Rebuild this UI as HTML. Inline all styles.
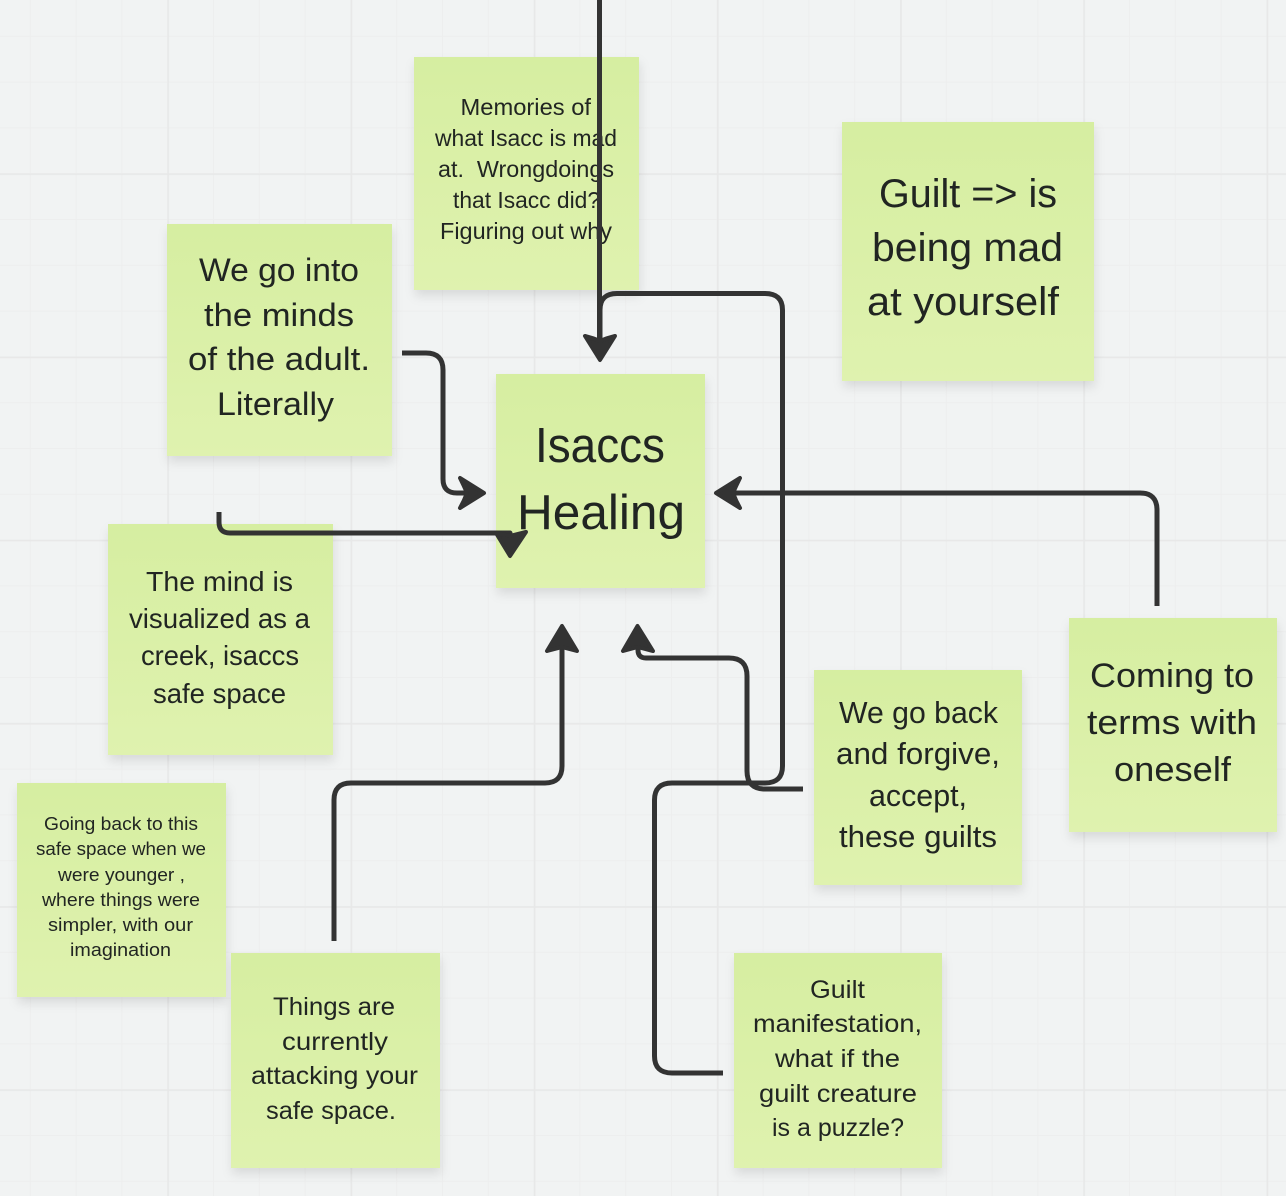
<!DOCTYPE html>
<html><head><meta charset="utf-8"><style>
html,body{margin:0;padding:0;background:#f1f3f3}
svg{display:block}
text{font-family:"Liberation Sans",sans-serif;fill:#212522}
.c{fill:none;stroke:#333;stroke-width:5;stroke-linecap:butt;stroke-linejoin:round}
.h{fill:#333;stroke:#333;stroke-width:4;stroke-linejoin:round}
</style></head><body>
<svg width="1286" height="1196" viewBox="0 0 1286 1196" xmlns="http://www.w3.org/2000/svg">
<defs>
<linearGradient id="g" x1="0" y1="0" x2="0" y2="1"><stop offset="0" stop-color="#d6eea1"/><stop offset="1" stop-color="#dff2af"/></linearGradient>
<filter id="s" x="-10%" y="-10%" width="120%" height="125%"><feDropShadow dx="1" dy="6" stdDeviation="5" flood-color="#000" flood-opacity="0.1"/></filter>
<pattern id="minor" x="-16" y="-10" width="45.8" height="45.8" patternUnits="userSpaceOnUse"><path d="M0.5 0V45.8M0 0.5H45.8" stroke="#edeeee" stroke-width="1" fill="none"/></pattern>
<pattern id="major" x="-16" y="-10" width="183.2" height="183.2" patternUnits="userSpaceOnUse"><path d="M1 0V183.2M0 1H183.2" stroke="#e7e8e8" stroke-width="1.6" fill="none"/></pattern>
</defs>
<rect width="1286" height="1196" fill="#f1f3f3"/>
<rect width="1286" height="1196" fill="url(#minor)"/>
<rect width="1286" height="1196" fill="url(#major)"/>

<g filter="url(#s)" fill="url(#g)">
<rect x="414" y="57" width="225" height="233"/>
<rect x="167" y="224" width="225" height="232"/>
<rect x="496" y="374" width="209" height="214"/>
<rect x="842" y="122" width="252" height="259"/>
<rect x="108" y="524" width="225" height="231"/>
<rect x="17" y="783" width="209" height="214"/>
<rect x="231" y="953" width="209" height="215"/>
<rect x="734" y="953" width="208" height="215"/>
<rect x="814" y="670" width="208" height="215"/>
<rect x="1069" y="618" width="208" height="214"/>
</g>

<g font-size="22.8">
<text x="460.5" y="115" textLength="130.5" lengthAdjust="spacingAndGlyphs">Memories of</text>
<text x="435" y="146" textLength="182" lengthAdjust="spacingAndGlyphs">what Isacc is mad</text>
<text x="438" y="177" textLength="176" lengthAdjust="spacingAndGlyphs" xml:space="preserve">at.  Wrongdoings</text>
<text x="453" y="208" textLength="147" lengthAdjust="spacingAndGlyphs">that Isacc did?</text>
<text x="440" y="239" textLength="172" lengthAdjust="spacingAndGlyphs">Figuring out why</text>
</g>
<g font-size="32.7">
<text x="199" y="281" textLength="160" lengthAdjust="spacingAndGlyphs">We go into</text>
<text x="204" y="326" textLength="150" lengthAdjust="spacingAndGlyphs">the minds</text>
<text x="188" y="370" textLength="182" lengthAdjust="spacingAndGlyphs">of the adult.</text>
<text x="217" y="415" textLength="117" lengthAdjust="spacingAndGlyphs">Literally</text>
</g>
<g font-size="49">
<text x="535" y="462" textLength="130" lengthAdjust="spacingAndGlyphs">Isaccs</text>
<text x="517" y="529" textLength="168" lengthAdjust="spacingAndGlyphs">Healing</text>
</g>
<g font-size="39.7">
<text x="879" y="207" textLength="178" lengthAdjust="spacingAndGlyphs">Guilt =&gt; is</text>
<text x="872" y="261" textLength="191" lengthAdjust="spacingAndGlyphs">being mad</text>
<text x="867" y="315" textLength="192" lengthAdjust="spacingAndGlyphs">at yourself</text>
</g>
<g font-size="27.4">
<text x="146" y="591" textLength="147" lengthAdjust="spacingAndGlyphs">The mind is</text>
<text x="129" y="628" textLength="181" lengthAdjust="spacingAndGlyphs">visualized as a</text>
<text x="141" y="665" textLength="158" lengthAdjust="spacingAndGlyphs">creek, isaccs</text>
<text x="153" y="703" textLength="133" lengthAdjust="spacingAndGlyphs">safe space</text>
</g>
<g font-size="18.5">
<text x="44" y="830" textLength="154" lengthAdjust="spacingAndGlyphs">Going back to this</text>
<text x="36" y="855" textLength="170" lengthAdjust="spacingAndGlyphs">safe space when we</text>
<text x="58" y="881" textLength="127" lengthAdjust="spacingAndGlyphs">were younger ,</text>
<text x="42" y="906" textLength="158" lengthAdjust="spacingAndGlyphs">where things were</text>
<text x="48" y="931" textLength="145" lengthAdjust="spacingAndGlyphs">simpler, with our</text>
<text x="70" y="956" textLength="101" lengthAdjust="spacingAndGlyphs">imagination</text>
</g>
<g font-size="25.4">
<text x="273" y="1015" textLength="122" lengthAdjust="spacingAndGlyphs">Things are</text>
<text x="282" y="1050" textLength="106" lengthAdjust="spacingAndGlyphs">currently</text>
<text x="251" y="1084" textLength="167" lengthAdjust="spacingAndGlyphs">attacking your</text>
<text x="266" y="1119" textLength="130" lengthAdjust="spacingAndGlyphs">safe space.</text>
<text x="810" y="998" textLength="55" lengthAdjust="spacingAndGlyphs">Guilt</text>
<text x="753" y="1032" textLength="169" lengthAdjust="spacingAndGlyphs">manifestation,</text>
<text x="775" y="1067" textLength="125" lengthAdjust="spacingAndGlyphs">what if the</text>
<text x="759" y="1102" textLength="158" lengthAdjust="spacingAndGlyphs">guilt creature</text>
<text x="772" y="1136" textLength="132" lengthAdjust="spacingAndGlyphs">is a puzzle?</text>
</g>
<g font-size="30.4">
<text x="839" y="723" textLength="159" lengthAdjust="spacingAndGlyphs">We go back</text>
<text x="836" y="764" textLength="164" lengthAdjust="spacingAndGlyphs">and forgive,</text>
<text x="869" y="806" textLength="98" lengthAdjust="spacingAndGlyphs">accept,</text>
<text x="839" y="847" textLength="158" lengthAdjust="spacingAndGlyphs">these guilts</text>
</g>
<g font-size="34.2">
<text x="1090" y="687" textLength="164" lengthAdjust="spacingAndGlyphs">Coming to</text>
<text x="1087" y="734" textLength="170" lengthAdjust="spacingAndGlyphs">terms with</text>
<text x="1114" y="781" textLength="117" lengthAdjust="spacingAndGlyphs">oneself</text>
</g>

<path class="c" d="M599.5 0V342"/>
<path class="h" d="M600 360L585 336Q593 338 600 341Q607 338 615 336Z"/>
<path class="c" d="M723 1073H672Q654.500 1073 654.500 1056V800Q654.500 783 672 783H765Q782.500 783 782.500 766V310Q782.500 293.500 765 293.500H617Q600 293.500 600 310V342"/>
<path class="c" d="M803 789H765Q747 789 747 771V676Q747 658 729 658H646Q638 658 638 650V640"/>
<path class="h" d="M637.500 626L623 651Q630 649 637.500 647Q645 649 653 651Z"/>
<path class="c" d="M334 941V800Q334 783 351 783H545Q562 783 562 766V640"/>
<path class="h" d="M562 626L547 651Q554 649 562 647Q570 649 577 651Z"/>
<path class="c" d="M402 353H426Q443 353 443 370V479Q443 493 457 493H470"/>
<path class="h" d="M484 493L460 478Q464 486 467 493Q464 501 460 508Z"/>
<path class="c" d="M219 512V522Q219 533 230 533H510V540"/>
<path class="h" d="M510 556L496 533Q503 534 510 536Q518 534 526 532Z"/>
<path class="c" d="M1157 606V510Q1157 493 1140 493H730"/>
<path class="h" d="M716 493L740 478Q736 486 733 493Q736 501 740 508Z"/>
</svg>
</body></html>
